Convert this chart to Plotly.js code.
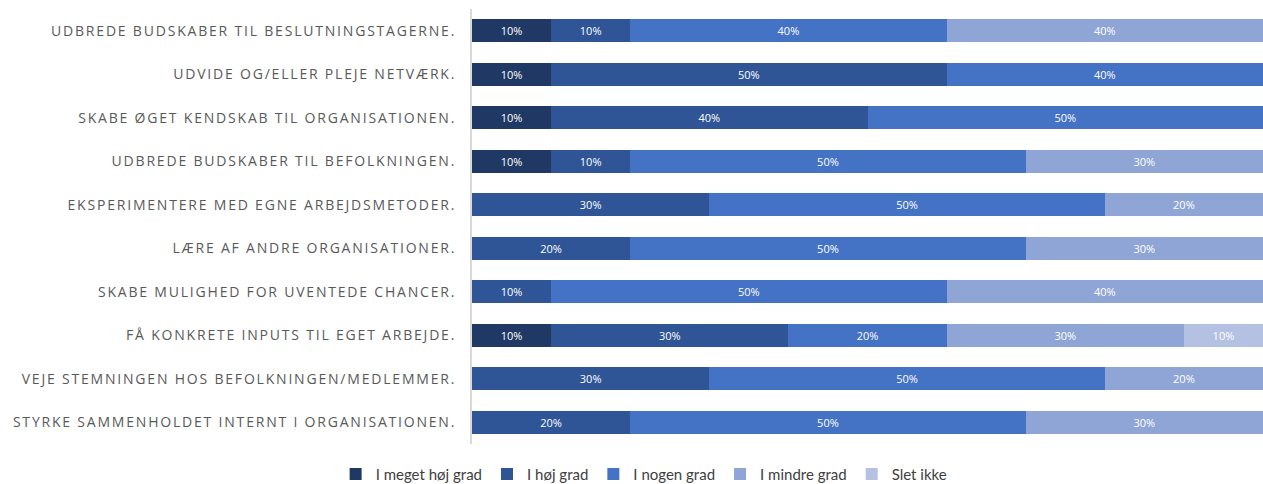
<!DOCTYPE html>
<html>
<head>
<meta charset="utf-8">
<script src="https://cdn.plot.ly/plotly-3.0.1.min.js"></script>
<style>
html,body{margin:0;padding:0;background:#fff;}
#chart{width:1263px;height:484px;}
.yaxislayer-above text{letter-spacing:1.8px;}
</style>
</head>
<body>
<div id="chart"></div>
<script>
const categories = [
  "UDBREDE BUDSKABER TIL BESLUTNINGSTAGERNE.",
  "UDVIDE OG/ELLER PLEJE NETVÆRK.",
  "SKABE ØGET KENDSKAB TIL ORGANISATIONEN.",
  "UDBREDE BUDSKABER TIL BEFOLKNINGEN.",
  "EKSPERIMENTERE MED EGNE ARBEJDSMETODER.",
  "LÆRE AF ANDRE ORGANISATIONER.",
  "SKABE MULIGHED FOR UVENTEDE CHANCER.",
  "FÅ KONKRETE INPUTS TIL EGET ARBEJDE.",
  "VEJE STEMNINGEN HOS BEFOLKNINGEN/MEDLEMMER.",
  "STYRKE SAMMENHOLDET INTERNT I ORGANISATIONEN."
];
const seriesNames = ["I meget høj grad", "I høj grad", "I nogen grad", "I mindre grad", "Slet ikke"];
const meget_hoej = [10, 10, 10, 10, null, null, null, 10, null, null];
const hoej       = [10, 50, 40, 10, 30, 20, 10, 30, 30, 20];
const nogen      = [40, 40, 50, 50, 50, 50, 50, 20, 50, 50];
const mindre     = [40, null, null, 30, 20, 30, 40, 30, 20, 30];
const slet_ikke  = [null, null, null, null, null, null, null, 10, null, null];
const seriesValues = [meget_hoej, hoej, nogen, mindre, slet_ikke];
const colors = ["#203864", "#2F5597", "#4472C4", "#8FA5D5", "#B4C1E3"];

const traces = seriesValues.map((vals, i) => ({
  type: "bar",
  orientation: "h",
  name: seriesNames[i],
  y: categories,
  x: vals,
  marker: {color: colors[i], line: {width: 0}},
  texttemplate: "%{x}%",
  textposition: "inside",
  insidetextanchor: "middle",
  textfont: {family: "'Open Sans', sans-serif", size: 11, color: "#ffffff"},
  hoverinfo: "skip"
}));

const layout = {
  width: 1263,
  height: 484,
  margin: {l: 472, r: 0, t: 9, b: 40},
  barmode: "stack",
  bargap: 0.47,
  paper_bgcolor: "#ffffff",
  plot_bgcolor: "#ffffff",
  showlegend: true,
  xaxis: {
    range: [0, 100],
    visible: false,
    fixedrange: true
  },
  yaxis: {
    autorange: "reversed",
    showline: true,
    linecolor: "#d9d9d9",
    linewidth: 2,
    ticks: "",
    ticklabelstandoff: 11,
    showgrid: false,
    zeroline: false,
    tickfont: {family: "'Open Sans', sans-serif", size: 14, color: "#595959"}
  },
  legend: {
    orientation: "h",
    xref: "container",
    yref: "container",
    x: 0.51,
    xanchor: "center",
    y: 0.02,
    yanchor: "middle",
    traceorder: "normal",
    font: {family: "Lato, 'Open Sans', sans-serif", size: 15, color: "#404040"},
    itemwidth: 30,
    itemclick: false
  }
};

Plotly.newPlot("chart", traces, layout, {displayModeBar: false, staticPlot: true});
</script>
</body>
</html>
